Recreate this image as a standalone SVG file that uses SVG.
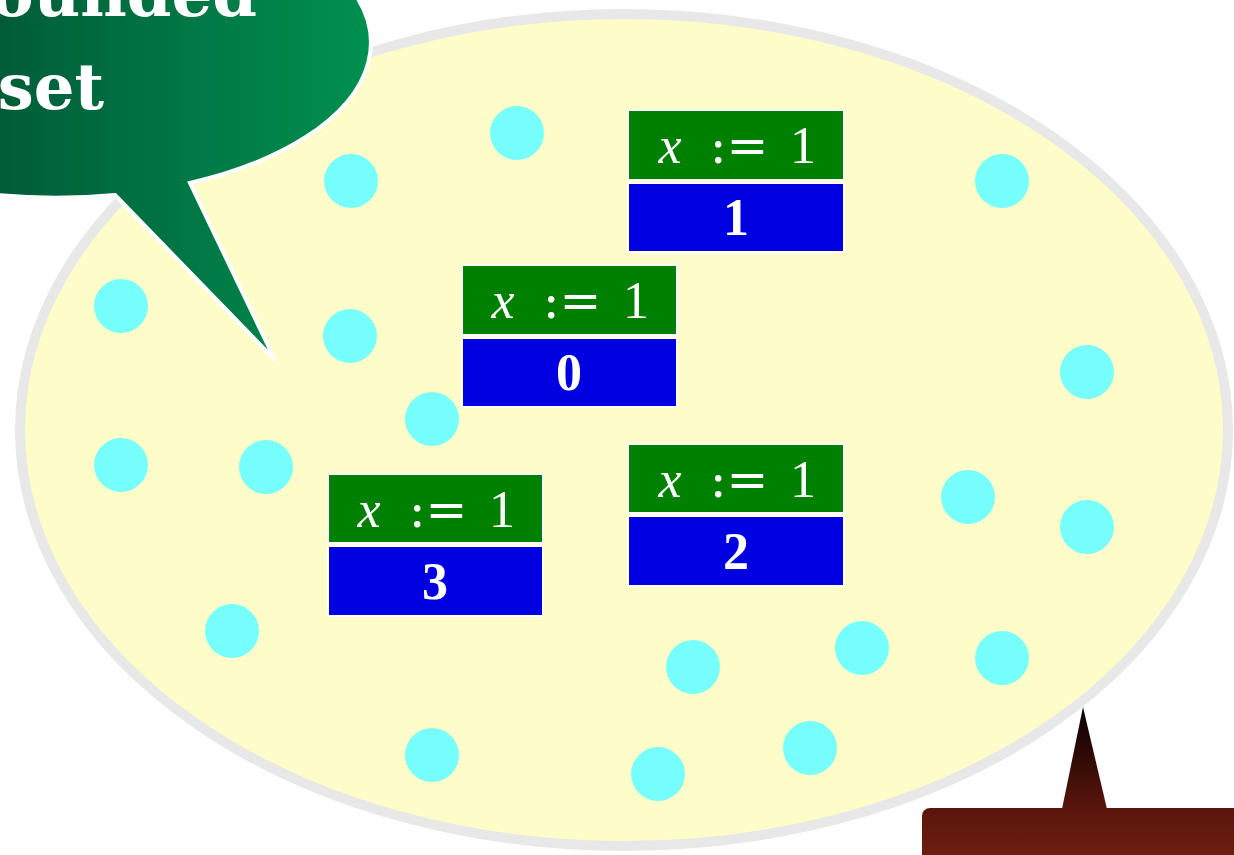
<svg xmlns="http://www.w3.org/2000/svg" width="1234" height="855" viewBox="0 0 1234 855">
<defs>
<linearGradient id="gGreen" x1="0" y1="0" x2="1" y2="0">
<stop offset="0" stop-color="#002a18"/>
<stop offset="0.45" stop-color="#00603a"/>
<stop offset="1" stop-color="#009050"/>
</linearGradient>
<linearGradient id="gBrown" x1="0" y1="0" x2="0" y2="1">
<stop offset="0" stop-color="#5a160d"/>
<stop offset="1" stop-color="#7a2212"/>
</linearGradient>
<linearGradient id="gTail" gradientUnits="userSpaceOnUse" x1="0" y1="707" x2="0" y2="810">
<stop offset="0" stop-color="#0a0000"/>
<stop offset="1" stop-color="#5a160d"/>
</linearGradient>
<style>
.dot{fill:#77ffff}
.hdr{fill:#008000;stroke:#ffffff;stroke-width:2}
.val{fill:#0000e0;stroke:#ffffff;stroke-width:2}
.t{fill:#ffffff;font-family:"Liberation Serif","DejaVu Serif",serif;font-size:52px;text-anchor:middle}
.op{font-family:"DejaVu Serif","Liberation Serif",serif;font-size:50px}
.v{fill:#ffffff;font-family:"Liberation Serif","DejaVu Serif",serif;font-size:52px;font-weight:bold;text-anchor:middle}
.big{fill:#ffffff;font-family:"DejaVu Serif","Liberation Serif",serif;font-size:64px;font-weight:bold}
</style>
</defs>
<g id="set">
<ellipse cx="624" cy="430" rx="604" ry="416" fill="#fefcc8" stroke="#e8e8e8" stroke-width="10"/>
</g>
<g id="dots">
<circle class="dot" cx="517" cy="133" r="27"/>
<circle class="dot" cx="351" cy="181" r="27"/>
<circle class="dot" cx="1002" cy="181" r="27"/>
<circle class="dot" cx="121" cy="306" r="27"/>
<circle class="dot" cx="350" cy="336" r="27"/>
<circle class="dot" cx="1087" cy="372" r="27"/>
<circle class="dot" cx="432" cy="419" r="27"/>
<circle class="dot" cx="121" cy="465" r="27"/>
<circle class="dot" cx="266" cy="467" r="27"/>
<circle class="dot" cx="968" cy="497" r="27"/>
<circle class="dot" cx="1087" cy="527" r="27"/>
<circle class="dot" cx="232" cy="631" r="27"/>
<circle class="dot" cx="693" cy="667" r="27"/>
<circle class="dot" cx="862" cy="648" r="27"/>
<circle class="dot" cx="1002" cy="658" r="27"/>
<circle class="dot" cx="432" cy="755" r="27"/>
<circle class="dot" cx="658" cy="774" r="27"/>
<circle class="dot" cx="810" cy="748" r="27"/>
</g>
<g id="box1">
<rect class="hdr" x="628" y="110" width="216" height="70"/>
<rect class="val" x="628" y="183" width="216" height="69"/>
<text class="t" y="163"><tspan x="670" font-style="italic">x</tspan><tspan class="op" x="739">:=</tspan><tspan x="803">1</tspan></text>
<text class="v" x="736" y="235">1</text>
</g>
<g id="box0">
<rect class="hdr" x="462" y="265" width="215" height="70"/>
<rect class="val" x="462" y="338" width="215" height="69"/>
<text class="t" y="318"><tspan x="503" font-style="italic">x</tspan><tspan class="op" x="572">:=</tspan><tspan x="636">1</tspan></text>
<text class="v" x="569" y="390">0</text>
</g>
<g id="box3">
<rect class="hdr" x="328" y="474" width="215" height="69"/>
<rect class="val" x="328" y="546" width="215" height="70"/>
<text class="t" y="527"><tspan x="369" font-style="italic">x</tspan><tspan class="op" x="438">:=</tspan><tspan x="502">1</tspan></text>
<text class="v" x="435" y="599">3</text>
</g>
<g id="box2">
<rect class="hdr" x="628" y="444" width="216" height="69"/>
<rect class="val" x="628" y="516" width="216" height="70"/>
<text class="t" y="497"><tspan x="670" font-style="italic">x</tspan><tspan class="op" x="739">:=</tspan><tspan x="803">1</tspan></text>
<text class="v" x="736" y="569">2</text>
</g>
<g id="bubble">
<path d="M 115 195 L 275 360 L 190 183 A 315 155 0 1 0 115 195 Z" fill="url(#gGreen)" stroke="#ffffff" stroke-width="4"/>
<text class="big" x="257" y="16" text-anchor="end">bounded</text>
<text class="big" x="104" y="109" text-anchor="end">set</text>
</g>
<g id="note">
<path d="M 1062 809 L 1083 707 L 1107 809 Z" fill="url(#gTail)"/>
<rect x="922" y="808" width="340" height="80" rx="8" fill="url(#gBrown)"/>
</g>
</svg>
